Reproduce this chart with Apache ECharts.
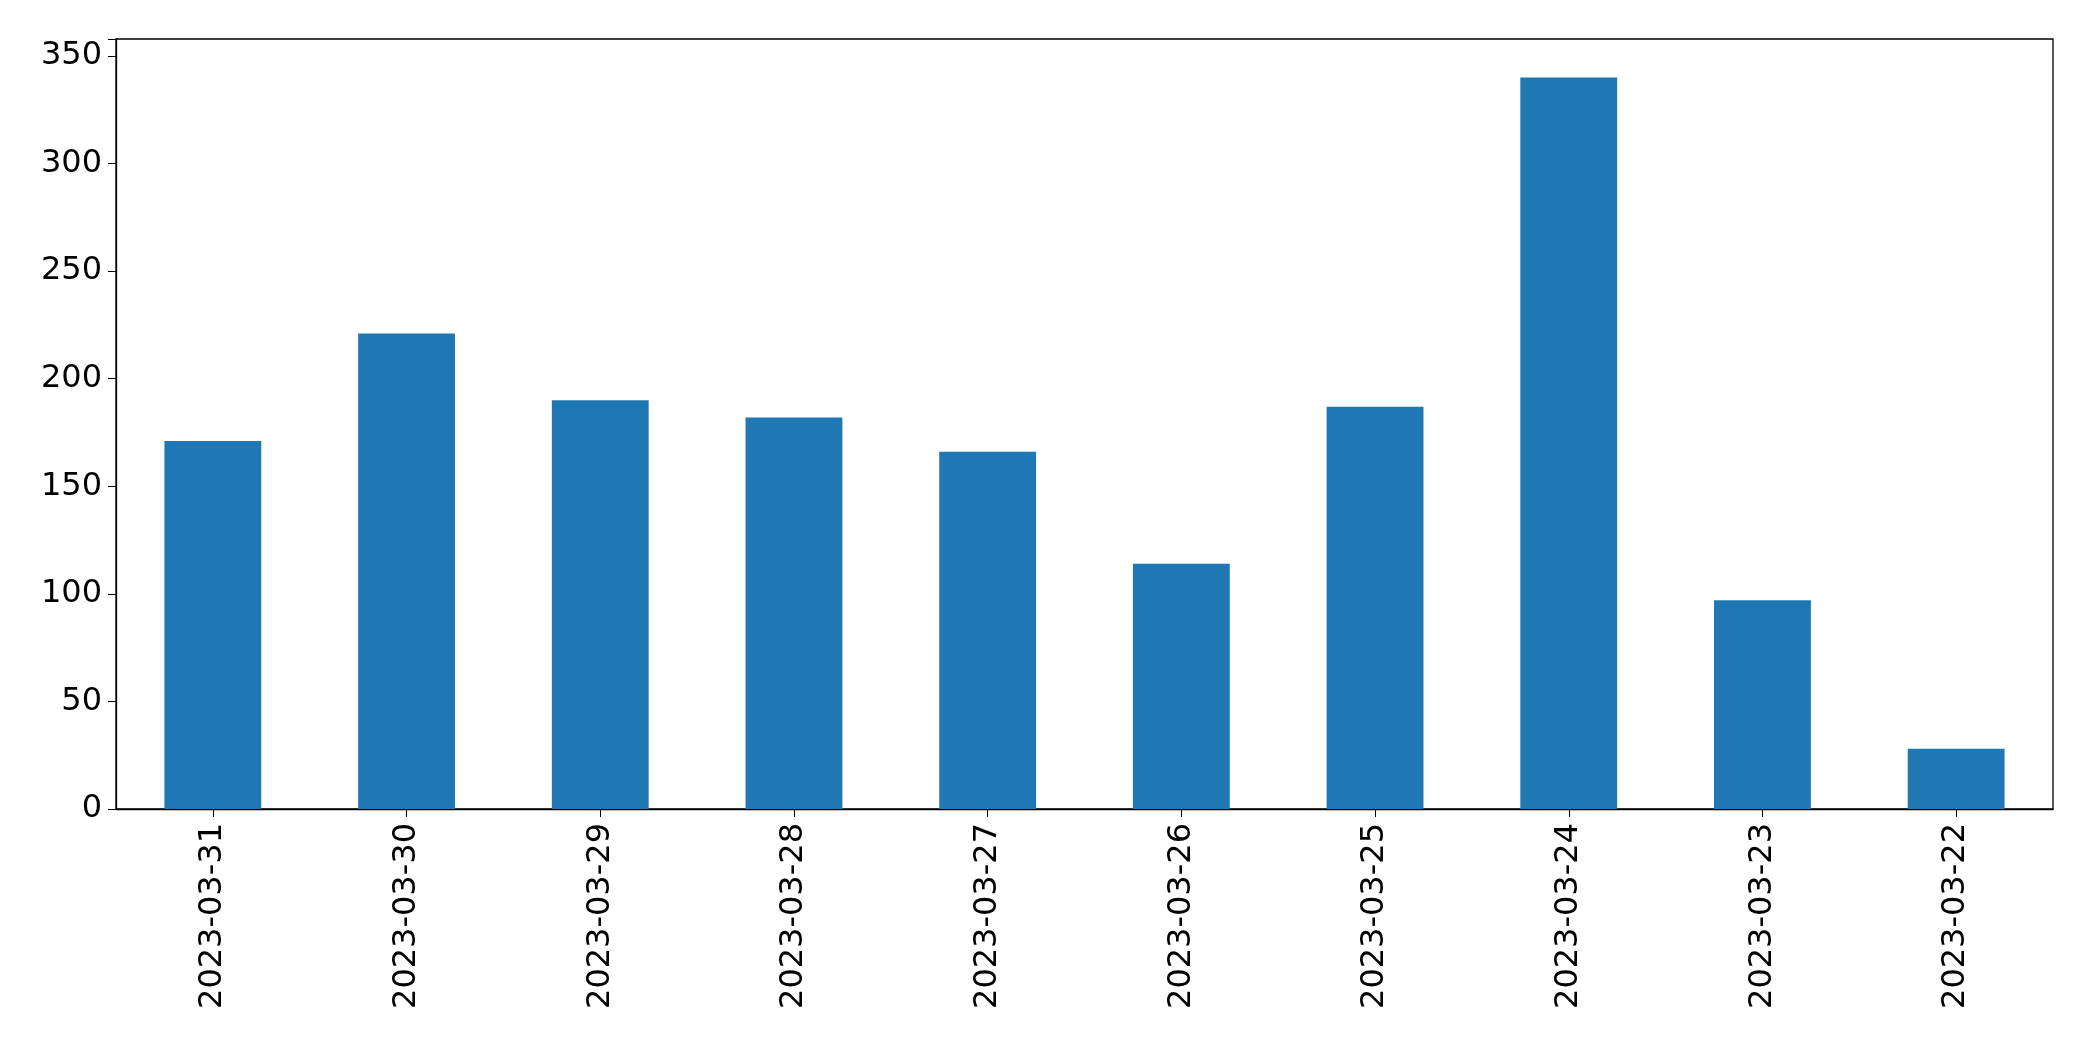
<!DOCTYPE html>
<html><head><meta charset="utf-8">
<script src="https://cdn.jsdelivr.net/npm/echarts@6/dist/echarts.min.js"></script>
<style>html,body{margin:0;padding:0;background:#fff}#c{width:2093px;height:1061px}</style>
</head><body><div id="c"></div>
<script>
const categories = ["2023-03-31","2023-03-30","2023-03-29","2023-03-28","2023-03-27","2023-03-26","2023-03-25","2023-03-24","2023-03-23","2023-03-22"];
const values = [171,221,190,182,166,114,187,340,97,28];
const yTicks = [0,50,100,150,200,250,300,350];
const chart = echarts.init(document.getElementById('c'));
const font = {fontFamily:'DejaVu Sans', fontSize:32, color:'#000'};
chart.setOption({
  animation:false,
  grid:{left:116,right:40,top:39,bottom:252,show:true,borderColor:'#000',borderWidth:1.3,backgroundColor:'transparent'},
  xAxis:{type:'category',data:categories,
    axisLine:{lineStyle:{color:'#000',width:1.3}},
    axisTick:{show:true,alignWithLabel:true,length:8,lineStyle:{color:'#000'}},
    axisLabel:Object.assign({rotate:90,margin:14,interval:0},font),
    splitLine:{show:false}},
  yAxis:{type:'value',min:0,max:357.9,interval:50,
    axisLine:{show:true,lineStyle:{color:'#000',width:1.3}},
    axisTick:{show:true,length:8,lineStyle:{color:'#000'}},
    axisLabel:Object.assign({margin:14,formatter:v=>yTicks.includes(v)?String(v):''},font),
    splitLine:{show:false}},
  series:[{type:'bar',data:values,barWidth:'50%',itemStyle:{color:'#1f77b4'}}]
});
</script></body></html>
